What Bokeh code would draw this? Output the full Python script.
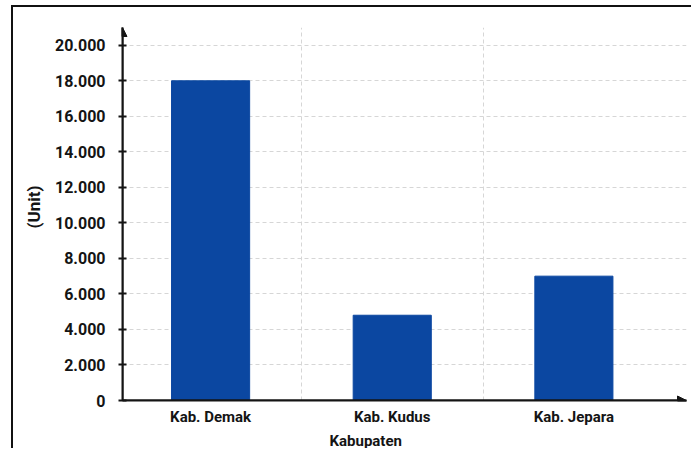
from bokeh.plotting import figure
from bokeh.models import Range1d, FixedTicker, Arrow, NormalHead, Title
from bokeh.embed import file_html
from bokeh.resources import INLINE

categories = ["Kab. Demak", "Kab. Kudus", "Kab. Jepara"]
values = [18000, 4800, 7000]
y_ticks = [0, 2000, 4000, 6000, 8000, 10000, 12000, 14000, 16000, 18000, 20000]
y_tick_labels = ["0", "2.000", "4.000", "6.000", "8.000", "10.000", "12.000",
                 "14.000", "16.000", "18.000", "20.000"]
y_label = "(Unit)"
x_label = "Kabupaten"

FONT = "Roboto"
INK = "#141414"

x_pos = [i + 0.5 for i in range(len(categories))]

p = figure(width=680, height=443, output_backend="svg", toolbar_location=None,
           x_range=Range1d(0.015, 3.12), y_range=Range1d(0, 21000),
           min_border_left=109, min_border_top=20, min_border_right=7,
           min_border_bottom=50)
p.styles = {"border-left": "2px solid #111", "border-top": "2px solid #111",
            "margin-left": "11px", "margin-top": "5px"}
p.outline_line_color = None
p.background_fill_color = "white"
p.border_fill_color = "white"

p.vbar(x=x_pos, top=values, width=0.43, color="#0B47A1")

# axes
p.xaxis.ticker = FixedTicker(ticks=x_pos)
p.xaxis.major_label_overrides = {x: c for x, c in zip(x_pos, categories)}
p.xaxis.major_tick_line_color = None
p.xaxis.minor_tick_line_color = None
p.xaxis.axis_line_width = 2
p.xaxis.axis_line_color = INK
p.xaxis.major_label_text_font = FONT
p.xaxis.major_label_text_font_style = "bold"
p.xaxis.major_label_text_font_size = "15px"
p.xaxis.major_label_text_color = INK
p.xaxis.major_label_standoff = 1

p.yaxis.ticker = FixedTicker(ticks=y_ticks)
p.yaxis.major_label_overrides = {t: l for t, l in zip(y_ticks, y_tick_labels)}
p.yaxis.minor_tick_line_color = None
p.yaxis.major_tick_in = 4
p.yaxis.major_tick_out = 4
p.yaxis.major_tick_line_width = 2
p.yaxis.major_tick_line_color = INK
p.yaxis.axis_line_width = 2
p.yaxis.axis_line_color = INK
p.yaxis.major_label_text_font = FONT
p.yaxis.major_label_text_font_style = "bold"
p.yaxis.major_label_text_font_size = "16px"
p.yaxis.major_label_text_color = INK
p.yaxis.major_label_standoff = 13

# grids
p.ygrid.grid_line_color = "#d6d6d6"
p.ygrid.grid_line_dash = "4 3"
p.ygrid.grid_line_width = 1
p.xgrid.ticker = FixedTicker(ticks=[1, 2])
p.xgrid.grid_line_color = "#d6d6d6"
p.xgrid.grid_line_dash = "4 3"
p.xgrid.grid_line_width = 1

# arrow heads on axes
p.add_layout(Arrow(end=NormalHead(size=9, fill_color=INK, line_color=INK),
                   x_start=p.x_range.start, y_start=0, x_end=p.x_range.end, y_end=0,
                   line_color=INK, line_width=2))
p.add_layout(Arrow(end=NormalHead(size=9, fill_color=INK, line_color=INK),
                   x_start=p.x_range.start, y_start=0, x_end=p.x_range.start,
                   y_end=p.y_range.end, line_color=INK, line_width=2))

# axis titles
p.add_layout(Title(text=x_label, align="left", offset=207, standoff=2,
                   text_font=FONT, text_font_style="bold", text_font_size="15px",
                   text_color=INK), "below")
p.add_layout(Title(text=y_label, align="left", offset=172, standoff=16,
                   text_font=FONT, text_font_style="bold", text_font_size="17px",
                   text_color=INK), "left")

open("out.html", "w").write(file_html(p, INLINE))
